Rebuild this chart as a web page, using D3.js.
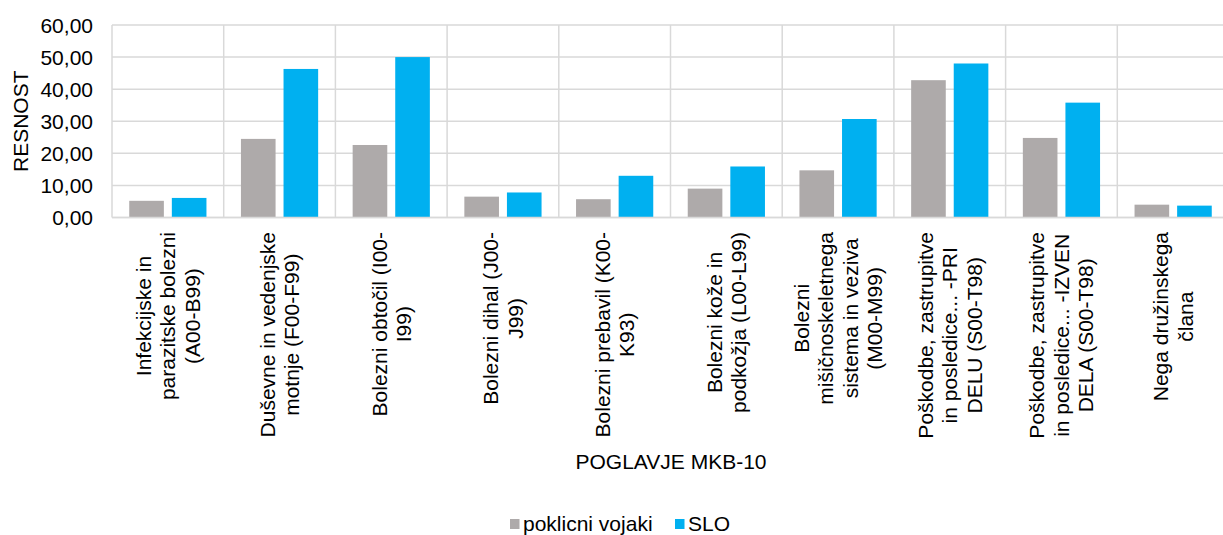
<!DOCTYPE html>
<html>
<head>
<meta charset="utf-8">
<script src="https://cdn.jsdelivr.net/npm/d3@7"></script>
<style>
  html, body { margin: 0; padding: 0; background: #fff; }
  svg { display: block; }
  text { font-family: "Liberation Sans", Arial, sans-serif; fill: #000; }
</style>
</head>
<body>
<svg id="chart" width="1223" height="535"></svg>
<script>
// Chapters of ICD-10 (each entry = wrapped lines of the axis label)
const categories = [
  ["Infekcijske in", "parazitske bolezni", "(A00-B99)"],
  ["Duševne in vedenjske", "motnje (F00-F99)"],
  ["Bolezni obtočil (I00-", "I99)"],
  ["Bolezni dihal (J00-", "J99)"],
  ["Bolezni prebavil (K00-", "K93)"],
  ["Bolezni kože in", "podkožja (L00-L99)"],
  ["Bolezni", "mišičnoskeletnega", "sistema in veziva", "(M00-M99)"],
  ["Poškodbe, zastrupitve", "in posledice... -PRI", "DELU (S00-T98)"],
  ["Poškodbe, zastrupitve", "in posledice... -IZVEN", "DELA (S00-T98)"],
  ["Nega družinskega", "člana"]
];
const seriesNames = ["poklicni vojaki", "SLO"];
const poklicniVojaki = [5.2, 24.5, 22.6, 6.5, 5.7, 9.0, 14.7, 42.8, 24.8, 4.0];
const slo = [6.1, 46.3, 50.0, 7.8, 13.0, 15.9, 30.7, 48.0, 35.8, 3.7];
const yTicks = [0, 10, 20, 30, 40, 50, 60];
const yTitle = "RESNOST";
const xTitle = "POGLAVJE MKB-10";

const colors = { "poklicni vojaki": "#AEAAAA", "SLO": "#00B0F0" };
const gridColor = "#D9D9D9";
const fs = 21;

const svg = d3.select("#chart");
const plot = { left: 112, right: 1229, top: 25, bottom: 217.5 };

const idx = categories.map((d, i) => i);
const x = d3.scaleBand().domain(idx).range([plot.left, plot.right]).paddingInner(0).paddingOuter(0);
const xs = d3.scaleBand().domain(seriesNames).range([0, x.bandwidth()])
  .paddingInner(0.187).paddingOuter(0.405);
const y = d3.scaleLinear().domain([0, 60]).range([plot.bottom, plot.top]);

// horizontal gridlines
svg.append("g").selectAll("line").data(yTicks).join("line")
  .attr("x1", plot.left).attr("x2", plot.right)
  .attr("y1", d => y(d)).attr("y2", d => y(d))
  .attr("stroke", gridColor).attr("stroke-width", 1.5);

// vertical category separators
svg.append("g").selectAll("line").data(idx.concat([idx.length])).join("line")
  .attr("x1", d => d < idx.length ? x(d) : plot.right)
  .attr("x2", d => d < idx.length ? x(d) : plot.right)
  .attr("y1", y(60)).attr("y2", y(0))
  .attr("stroke", gridColor).attr("stroke-width", 1.5);

// y tick labels
const fmt = v => d3.format(".2f")(v).replace(".", ",");
svg.append("g").selectAll("text").data(yTicks).join("text")
  .attr("x", 93).attr("y", d => y(d) + 7.5)
  .attr("text-anchor", "end").attr("font-size", fs)
  .text(fmt);

// bars
const rows = idx.map(i => ({ i, values: [
  { s: "poklicni vojaki", v: poklicniVojaki[i] },
  { s: "SLO", v: slo[i] }
]}));
svg.append("g").selectAll("g").data(rows).join("g")
  .attr("transform", d => `translate(${x(d.i)},0)`)
  .selectAll("rect").data(d => d.values).join("rect")
  .attr("x", d => xs(d.s))
  .attr("width", xs.bandwidth())
  .attr("y", d => y(d.v))
  .attr("height", d => y(0) - y(d.v))
  .attr("fill", d => colors[d.s]);

// bottom axis line
svg.append("line")
  .attr("x1", plot.left).attr("x2", plot.right)
  .attr("y1", y(0)).attr("y2", y(0))
  .attr("stroke", gridColor).attr("stroke-width", 1.5);

// rotated category labels
const lineH = 24.5;
const labelTop = 232;
const measure = svg.append("text").attr("font-size", fs).attr("visibility", "hidden");
categories.forEach((lines, i) => {
  const widths = lines.map(l => { measure.text(l); return measure.node().getComputedTextLength(); });
  const maxW = d3.max(widths);
  const cy = labelTop + maxW / 2;
  const cx = x(i) + x.bandwidth() / 2;
  const n = lines.length;
  const g = svg.append("g");
  lines.forEach((l, k) => {
    // visual centre of line k, then shift to the baseline
    const vc = cx + (k - (n - 1) / 2) * lineH;
    const bx = vc + 7.5;
    g.append("text")
      .attr("transform", `translate(${bx},${cy}) rotate(-90)`)
      .attr("text-anchor", "middle").attr("font-size", fs)
      .text(l);
  });
});
measure.remove();

// axis titles
svg.append("text")
  .attr("transform", `translate(28,${(plot.top + plot.bottom) / 2}) rotate(-90)`)
  .attr("text-anchor", "middle").attr("font-size", fs)
  .text(yTitle);
svg.append("text")
  .attr("x", 671).attr("y", 469)
  .attr("text-anchor", "middle").attr("font-size", fs)
  .text(xTitle);

// legend
const legendX = [510, 675];
const lg = svg.append("g");
seriesNames.forEach((s, k) => {
  lg.append("rect").attr("x", legendX[k]).attr("y", 519).attr("width", 9.5).attr("height", 10)
    .attr("fill", colors[s]);
  lg.append("text").attr("x", legendX[k] + 13).attr("y", 530.5).attr("font-size", fs).text(s);
});
</script>
</body>
</html>
